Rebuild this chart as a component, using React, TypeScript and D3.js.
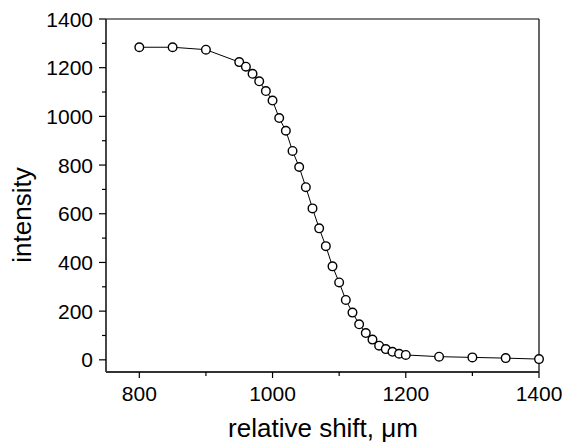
import React from "react";
import * as d3 from "d3";

const xValues = [800, 850, 900, 950, 960, 970, 980, 990, 1000, 1010, 1020, 1030, 1040, 1050, 1060, 1070, 1080, 1090, 1100, 1110, 1120, 1130, 1140, 1150, 1160, 1170, 1180, 1190, 1200, 1250, 1300, 1350, 1400];
const yValues = [1284, 1284, 1274, 1223, 1204, 1175, 1144, 1104, 1065, 993, 941, 858, 792, 709, 622, 540, 467, 384, 318, 246, 194, 146, 110, 83, 58, 44, 33, 25, 20, 13, 10, 7, 3];
const xMajorTicks = [800, 1000, 1200, 1400];
const xMinorTicks = [900, 1100, 1300];
const yMajorTicks = [0, 200, 400, 600, 800, 1000, 1200, 1400];
const yMinorTicks = [100, 300, 500, 700, 900, 1100, 1300];
const xLabel = "relative shift, μm";
const yLabel = "intensity";

const W = 562, H = 445;
const L = 106, R = 539, T = 19, B = 372;
const FONT = "Liberation Sans, Arial, sans-serif";

export default function App() {
  const x = d3.scaleLinear().domain([750, 1400]).range([L, R]);
  const y = d3.scaleLinear().domain([-50, 1400]).range([B, T]);
  const pts = xValues.map((v, i) => [v, yValues[i]] as [number, number]);
  const line = d3.line<[number, number]>().x(d => x(d[0])).y(d => y(d[1]));
  return (
    <svg width={W} height={H} style={{ position: "absolute", left: 0, top: 0, background: "#fff" }}>
      <rect x={0} y={0} width={W} height={H} fill="#fff" />
      <line x1={L} x2={R} y1={T} y2={T} stroke="#000" strokeWidth={1.2} />
      <line x1={R} x2={R} y1={T} y2={B} stroke="#000" strokeWidth={1.2} />
      <line x1={L} x2={L} y1={T} y2={B} stroke="#333" strokeWidth={1.8} />
      <line x1={L} x2={R} y1={B} y2={B} stroke="#333" strokeWidth={1.8} />
      {xMajorTicks.map(t => (
        <g key={"xM" + t}>
          <line x1={x(t)} x2={x(t)} y1={B} y2={B + 6} stroke="#000" strokeWidth={1.2} />
          <text x={x(t)} y={401} textAnchor="middle" fontFamily={FONT} fontSize={21} fill="#000">{t}</text>
        </g>
      ))}
      {xMinorTicks.map(t => (
        <line key={"xm" + t} x1={x(t)} x2={x(t)} y1={B} y2={B + 4} stroke="#000" strokeWidth={1.2} />
      ))}
      {yMajorTicks.map(t => (
        <g key={"yM" + t}>
          <line x1={L - 7} x2={L} y1={y(t)} y2={y(t)} stroke="#000" strokeWidth={1.2} />
          <text x={93} y={y(t)} dy="0.36em" textAnchor="end" fontFamily={FONT} fontSize={21} fill="#000">{t}</text>
        </g>
      ))}
      {yMinorTicks.map(t => (
        <line key={"ym" + t} x1={L - 4} x2={L} y1={y(t)} y2={y(t)} stroke="#000" strokeWidth={1.2} />
      ))}
      <path d={line(pts) || ""} fill="none" stroke="#000" strokeWidth={1} />
      {pts.map((d, i) => (
        <circle key={i} cx={x(d[0])} cy={y(d[1])} r={4.3} fill="#fff" stroke="#000" strokeWidth={1.4} />
      ))}
      <text x={323} y={437} textAnchor="middle" fontFamily={FONT} fontSize={26} fill="#000">{xLabel}</text>
      <text transform={`translate(31,215) rotate(-90)`} textAnchor="middle" fontFamily={FONT} fontSize={26} fill="#000">{yLabel}</text>
    </svg>
  );
}
